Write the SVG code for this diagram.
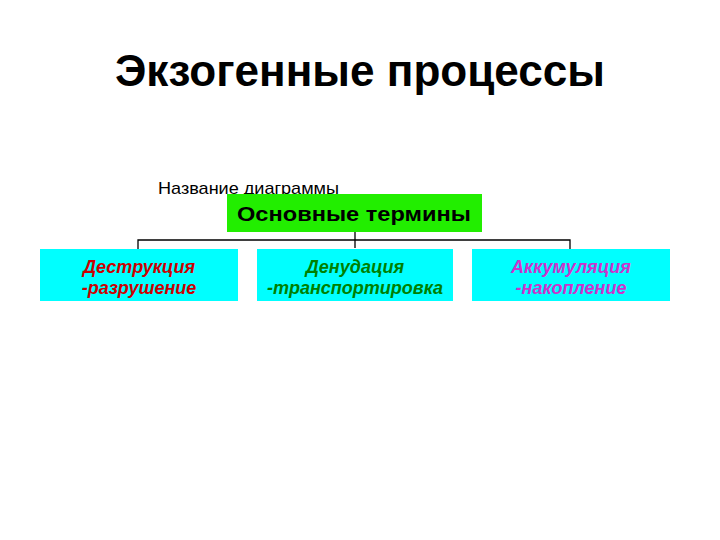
<svg xmlns="http://www.w3.org/2000/svg" width="720" height="540" viewBox="0 0 720 540">
<style>
.t{font-family:"Liberation Sans",Arial,sans-serif}
.box{fill:#00FFFF}
.lbl{font-family:"Liberation Sans",Arial,sans-serif;font-size:18px;font-style:italic;font-weight:bold;text-anchor:middle}
.con{stroke:#000;stroke-width:1.3;fill:none}
</style>
<rect width="720" height="540" fill="#fff"/>
<text class="t" x="360" y="86" font-size="44" font-weight="bold" text-anchor="middle" fill="#000" textLength="490" lengthAdjust="spacingAndGlyphs">Экзогенные процессы</text>
<text class="t" x="158" y="194" font-size="17" fill="#000" textLength="181" lengthAdjust="spacingAndGlyphs">Название диаграммы</text>
<g id="connectors">
<path class="con" d="M355,232 V248 M138,249 V240 H570 V249"/>
</g>
<g id="root">
<rect x="227" y="194" width="255" height="38" fill="#22EE00"/>
<text class="t" x="354" y="221" font-size="21" font-weight="bold" text-anchor="middle" fill="#000" textLength="234" lengthAdjust="spacingAndGlyphs">Основные термины</text>
</g>
<g id="n1">
<rect class="box" x="40" y="249" width="198" height="52"/>
<text class="lbl" x="139" y="273" fill="#CC0000">Деструкция</text>
<text class="lbl" x="139" y="294" fill="#CC0000">-разрушение</text>
</g>
<g id="n2">
<rect class="box" x="257" y="249" width="196" height="52"/>
<text class="lbl" x="355" y="273" fill="#008000">Денудация</text>
<text class="lbl" x="355" y="294" fill="#008000">-транспортировка</text>
</g>
<g id="n3">
<rect class="box" x="472" y="249" width="198" height="52"/>
<text class="lbl" x="571" y="273" fill="#CC33CC">Аккумуляция</text>
<text class="lbl" x="571" y="294" fill="#CC33CC">-накопление</text>
</g>
</svg>
